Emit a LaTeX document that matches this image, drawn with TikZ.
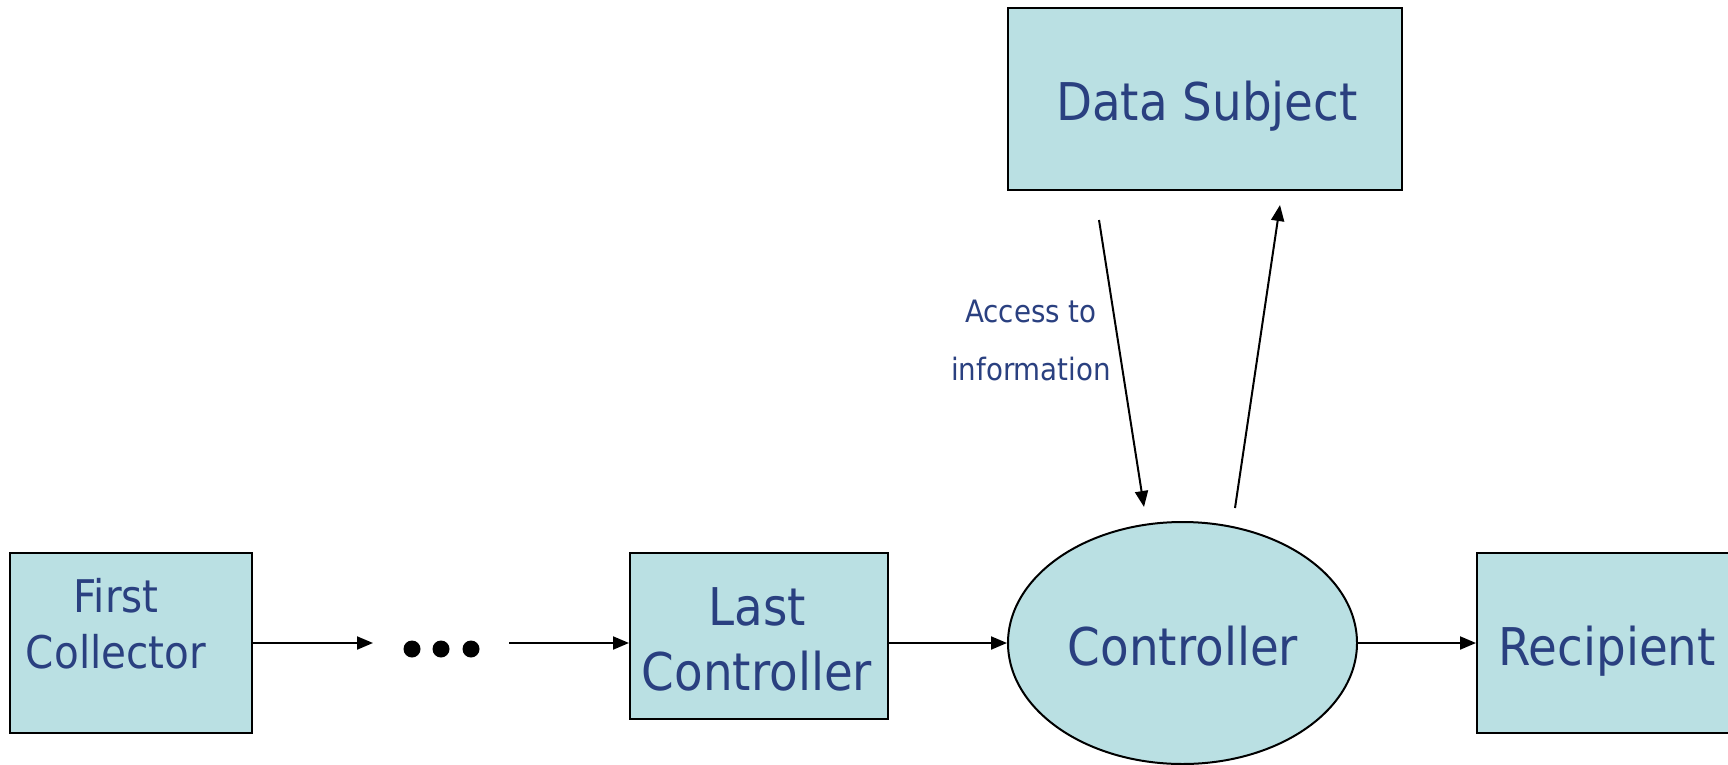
\documentclass[tikz,border=0pt]{standalone}
\usepackage{fontspec}
\setmainfont[FakeStretch=0.9]{DejaVu Sans}
\usetikzlibrary{shapes.geometric,arrows.meta}
\definecolor{boxfill}{RGB}{186,224,227}
\definecolor{txtblue}{RGB}{42,64,128}
\tikzset{
  boxnode/.style={draw=black, line width=1pt, fill=boxfill, rectangle, inner sep=0pt},
  ellnode/.style={draw=black, line width=1pt, fill=boxfill, ellipse, inner sep=0pt},
  bigtxt/.style={text=txtblue, inner sep=0pt, anchor=base, align=center, font=\fontsize{26}{32.5}\selectfont},
  midtxt/.style={text=txtblue, inner sep=0pt, anchor=base, align=center, font=\fontsize{22.5}{28}\selectfont},
  smalltxt/.style={text=txtblue, inner sep=0pt, anchor=base, align=center, font=\fontsize{15.4}{29}\selectfont},
  conn/.style={line width=1pt, -{Triangle[length=8pt,width=6.5pt]}},
  dotmark/.style={fill=black, circle, inner sep=0pt, minimum size=8.5pt}
}
\begin{document}
\begin{tikzpicture}[x=0.5pt,y=-0.5pt]
\useasboundingbox (0,0) rectangle (1728,765);
\clip (0,0) rectangle (1728,765);
% boxes
\node[boxnode, minimum width=121pt, minimum height=90pt] (fc) at (131,643) {};
\node[boxnode, minimum width=129pt, minimum height=83pt] (lc) at (759,636) {};
\node[boxnode, minimum width=197pt, minimum height=91pt] (ds) at (1205,99) {};
\node[ellnode, minimum width=174.5pt, minimum height=121pt] (ctrl) at (1182.5,643) {};
\node[boxnode, minimum width=131.5pt, minimum height=90pt] (rc) at (1608.5,643) {};
% texts (anchor base = baseline of the last line)
\node[midtxt] (fctext) at (116,668) {First\\Collector};
\node[bigtxt] (lctext) at (757,690) {Last\\Controller};
\node[bigtxt] (dstext) at (1207,120) {Data Subject};
\node[bigtxt] (ctrltext) at (1183,665) {Controller};
\node[bigtxt] (rctext) at (1607,665) {Recipient};
\node[smalltxt] (acctext) at (1031,380) {Access to\\information};
% dots
\node[dotmark] (dot1) at (412,649) {};
\node[dotmark] (dot2) at (441,649) {};
\node[dotmark] (dot3) at (471,649) {};
\coordinate (d1) at (373,643);
\coordinate (d2) at (509,643);
% vertical connector ends
\coordinate (a1s) at (1099,220);
\coordinate (a1e) at (1144,507);
\coordinate (a2s) at (1235,508);
\coordinate (a2e) at (1280,205);
% connectors
\draw[conn] (fc.east) -- (d1);
\draw[conn] (d2) -- (lc.west |- d2);
\draw[conn] (lc.east |- ctrl.west) -- (ctrl.west);
\draw[conn] (ctrl.east) -- (rc.west);
\draw[conn] (a1s) -- (a1e);
\draw[conn] (a2s) -- (a2e);
\end{tikzpicture}
\end{document}
